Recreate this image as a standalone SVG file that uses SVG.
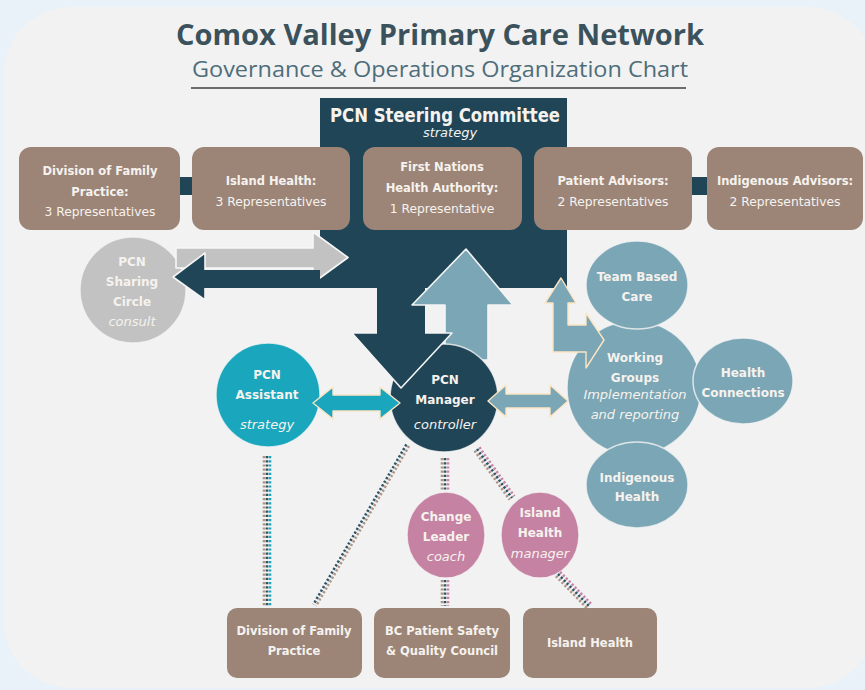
<svg xmlns="http://www.w3.org/2000/svg" width="865" height="690" viewBox="0 0 865 690">
  <style>
    .t { font-family: "DejaVu Sans", "Liberation Sans", sans-serif; fill: #f6f2ee; text-anchor: middle; }
    .b { font-weight: bold; font-size: 11.5px; }
    .r { font-size: 12.3px; }
    .cb { font-weight: bold; font-size: 12px; }
    .i { font-style: italic; font-size: 13px; }
    .box { fill: #9c8577; }
    .link { fill: #1f4557; }
    .dark { fill: #1f4557; }
    .ring { stroke: #f4f4f4; stroke-width: 1.5; stroke-opacity: 0.8; }
    .hl { fill: none; stroke: #f4f4f4; stroke-width: 1.6; stroke-linejoin: round; }
    .cream { stroke: #fde5c2; stroke-width: 1.4; stroke-linejoin: round; }
    .dot { fill: none; stroke-width: 2.6; stroke-dasharray: 2.2 2; }
    .d1 { stroke: #ad9486; }
    .d2 { stroke: #2d5566; }
    .d3 { stroke: #c782a5; }
    .d4 { stroke: #1aa6bd; }
  </style>

  <!-- page and panel -->
  <rect x="0" y="0" width="865" height="690" fill="#e9f1f9"/>
  <rect x="4" y="7" width="871" height="681" rx="67" fill="#f2f2f2"/>

  <!-- heading -->
  <g id="title">
    <text x="440" y="45" font-family="'Open Sans', 'Liberation Sans', sans-serif" font-weight="bold" font-size="28" fill="#3b525c" text-anchor="middle" textLength="528" lengthAdjust="spacingAndGlyphs">Comox Valley Primary Care Network</text>
    <text x="440" y="77" font-family="'Open Sans', 'Liberation Sans', sans-serif" font-size="21" fill="#4e6d7a" text-anchor="middle" textLength="496" lengthAdjust="spacingAndGlyphs">Governance &amp; Operations Organization Chart</text>
    <line x1="191" y1="88" x2="686" y2="88" stroke="#6b6b6b" stroke-width="2"/>
  </g>

  <!-- steering committee block with its shaft stubs -->
  <g id="steering-committee">
    <path class="dark" d="M320 98 H567 V288 H425 V334 H377 V288 H320 Z"/>
    <text class="t" x="445" y="122" font-weight="bold" font-size="19" textLength="230" lengthAdjust="spacingAndGlyphs">PCN Steering Committee</text>
    <text class="t i" x="450" y="137" font-size="12">strategy</text>
  </g>

  <!-- sharing circle -->
  <g id="sharing-circle">
    <circle cx="133" cy="290" r="53" fill="#c2c2c2" class="ring"/>
    <text class="t cb" x="132" y="266">PCN</text>
    <text class="t cb" x="132" y="286">Sharing</text>
    <text class="t cb" x="132" y="306">Circle</text>
    <text class="t i" x="132" y="326">consult</text>
  </g>

  <g id="connectors">
    <!-- consult flows -->
    <path d="M176 248 H313 V232 L348 257.5 L313 283 V268 H176 Z" fill="#c2c2c2" stroke="#f7f7f7" stroke-width="1.6" stroke-linejoin="round"/>
    <path class="dark" d="M320 270 H205 V253 L173 277 L205 300 V288 H320 Z"/>
    <polyline class="hl" points="205,270 205,253 173,277 205,300 205,288"/>

    <!-- upward reporting arrow -->
    <path d="M445 360 V305 H412 L466 249 L513 305 H488 V360 Z" fill="#7ba6b5" stroke="#f4f4f4" stroke-width="1.6" stroke-linejoin="round"/>
  </g>

  <!-- top row members -->
  <g id="rep-links">
    <rect class="link" x="178" y="177" width="16" height="18"/>
    <rect class="link" x="690" y="177" width="19" height="18"/>
  </g>
  <g id="rep-division">
    <rect class="box" x="19" y="147" width="161" height="83" rx="12"/>
    <text class="t b" x="100" y="175">Division of Family</text>
    <text class="t b" x="100" y="196">Practice:</text>
    <text class="t r" x="100" y="216">3 Representatives</text>
  </g>
  <g id="rep-island-health">
    <rect class="box" x="192" y="147" width="158" height="83" rx="12"/>
    <text class="t b" x="271" y="185">Island Health:</text>
    <text class="t r" x="271" y="206">3 Representatives</text>
  </g>
  <g id="rep-fnha">
    <rect class="box" x="363" y="147" width="159" height="83" rx="12"/>
    <text class="t b" x="442" y="171">First Nations</text>
    <text class="t b" x="442" y="192">Health Authority:</text>
    <text class="t r" x="442" y="213">1 Representative</text>
  </g>
  <g id="rep-patient">
    <rect class="box" x="534" y="147" width="158" height="83" rx="12"/>
    <text class="t b" x="613" y="185">Patient Advisors:</text>
    <text class="t r" x="613" y="206">2 Representatives</text>
  </g>
  <g id="rep-indigenous">
    <rect class="box" x="707" y="147" width="156" height="83" rx="12"/>
    <text class="t b" x="785" y="185">Indigenous Advisors:</text>
    <text class="t r" x="785" y="206">2 Representatives</text>
  </g>

  <!-- working groups cluster -->
  <g id="working-groups">
    <circle cx="634" cy="388" r="67" fill="#7ba6b5" class="ring"/>
    <text class="t cb" x="635" y="362">Working</text>
    <text class="t cb" x="635" y="382">Groups</text>
    <text class="t i" x="635" y="399" font-size="12">Implementation</text>
    <text class="t i" x="635" y="419" font-size="12">and reporting</text>
  </g>
  <g id="team-based-care">
    <ellipse cx="637" cy="285" rx="51" ry="44" fill="#7ba6b5" class="ring"/>
    <text class="t cb" x="637" y="281">Team Based</text>
    <text class="t cb" x="637" y="301">Care</text>
  </g>
  <g id="health-connections">
    <ellipse cx="743" cy="381" rx="50" ry="43" fill="#7ba6b5" class="ring"/>
    <text class="t cb" x="743" y="377">Health</text>
    <text class="t cb" x="743" y="397">Connections</text>
  </g>
  <g id="indigenous-health">
    <ellipse cx="637" cy="485" rx="51" ry="43" fill="#7ba6b5" class="ring"/>
    <text class="t cb" x="637" y="482">Indigenous</text>
    <text class="t cb" x="637" y="501">Health</text>
  </g>

  <!-- assistant -->
  <g id="pcn-assistant">
    <circle cx="268" cy="395" r="52" fill="#1aa6bd" class="ring"/>
    <text class="t cb" x="267" y="379">PCN</text>
    <text class="t cb" x="267" y="399">Assistant</text>
    <text class="t i" x="267" y="429">strategy</text>
  </g>

  <!-- manager -->
  <g id="pcn-manager">
    <circle cx="444" cy="398" r="54" fill="#1f4557" class="ring"/>
    <text class="t cb" x="445" y="384">PCN</text>
    <text class="t cb" x="445" y="404">Manager</text>
    <text class="t i" x="445" y="429">controller</text>
  </g>

  <!-- coach and local manager -->
  <g id="change-leader">
    <ellipse cx="446" cy="535" rx="39" ry="43" fill="#c582a3" class="ring"/>
    <text class="t cb" x="446" y="521">Change</text>
    <text class="t cb" x="446" y="541">Leader</text>
    <text class="t i" x="446" y="561">coach</text>
  </g>
  <g id="island-health-manager">
    <ellipse cx="540" cy="535" rx="39" ry="43" fill="#c582a3" class="ring"/>
    <text class="t cb" x="540" y="517">Island</text>
    <text class="t cb" x="540" y="537">Health</text>
    <text class="t i" x="540" y="558">manager</text>
  </g>

  <!-- bottom partners -->
  <g id="partner-division">
    <rect class="box" x="227" y="608" width="135" height="70" rx="10"/>
    <text class="t b" x="294" y="635">Division of Family</text>
    <text class="t b" x="294" y="655">Practice</text>
  </g>
  <g id="partner-bcpsqc">
    <rect class="box" x="374" y="608" width="136" height="70" rx="10"/>
    <text class="t b" x="442" y="635">BC Patient Safety</text>
    <text class="t b" x="442" y="655">&amp; Quality Council</text>
  </g>
  <g id="partner-island-health">
    <rect class="box" x="523" y="608" width="134" height="70" rx="10"/>
    <text class="t b" x="590" y="647">Island Health</text>
  </g>

  <g id="flows">
    <!-- directive arrow into the manager -->
    <path class="dark" d="M377 333 H352 L401 388 L452 333 H425 Z"/>
    <polyline class="hl" points="377,333 352,333 401,388 452,333 425,333"/>

    <!-- two-way links -->
    <path class="cream" fill="#1aa6bd" d="M313 403 L333 387 V395 H380 V387 L400 403 L380 419 V411 H333 V419 Z"/>
    <path class="cream" fill="#7ba6b5" d="M488 401 L506 385 V394 H550 V385 L568 401 L550 417 V408 H506 V417 Z"/>

    <!-- working groups to committee -->
    <path class="cream" fill="#7ba6b5" d="M561 278 L576 303 H568 V325 H586 V313 L604 340 L586 368 V352 H553 V303 H545 Z"/>

    <!-- dotted reporting lines -->
    <g>
      <line class="dot d1" x1="264" y1="456" x2="264" y2="606"/>
      <line class="dot d2" x1="267" y1="456" x2="267" y2="606"/>
      <line class="dot d4" x1="270" y1="456" x2="270" y2="606"/>
    </g>
    <g>
      <line class="dot d2" x1="406.4" y1="444.5" x2="313.4" y2="604.5"/>
      <line class="dot d1" x1="409" y1="446" x2="316" y2="606"/>
    </g>
    <g>
      <line class="dot d1" x1="442" y1="458" x2="442" y2="490"/>
      <line class="dot d2" x1="445" y1="458" x2="445" y2="490"/>
      <line class="dot d3" x1="448" y1="458" x2="448" y2="490"/>
      <line class="dot d1" x1="442" y1="580" x2="442" y2="606"/>
      <line class="dot d2" x1="445" y1="580" x2="445" y2="606"/>
      <line class="dot d3" x1="448" y1="580" x2="448" y2="606"/>
    </g>
    <g>
      <line class="dot d1" x1="474.6" y1="450.7" x2="509.6" y2="499.7"/>
      <line class="dot d2" x1="477" y1="449" x2="512" y2="498"/>
      <line class="dot d3" x1="479.4" y1="447.3" x2="514.4" y2="496.3"/>
    </g>
    <g>
      <line class="dot d1" x1="555.9" y1="576.1" x2="587.9" y2="609.1"/>
      <line class="dot d2" x1="558" y1="574" x2="590" y2="607"/>
      <line class="dot d3" x1="560.1" y1="571.9" x2="592.1" y2="604.9"/>
    </g>
  </g>
</svg>
